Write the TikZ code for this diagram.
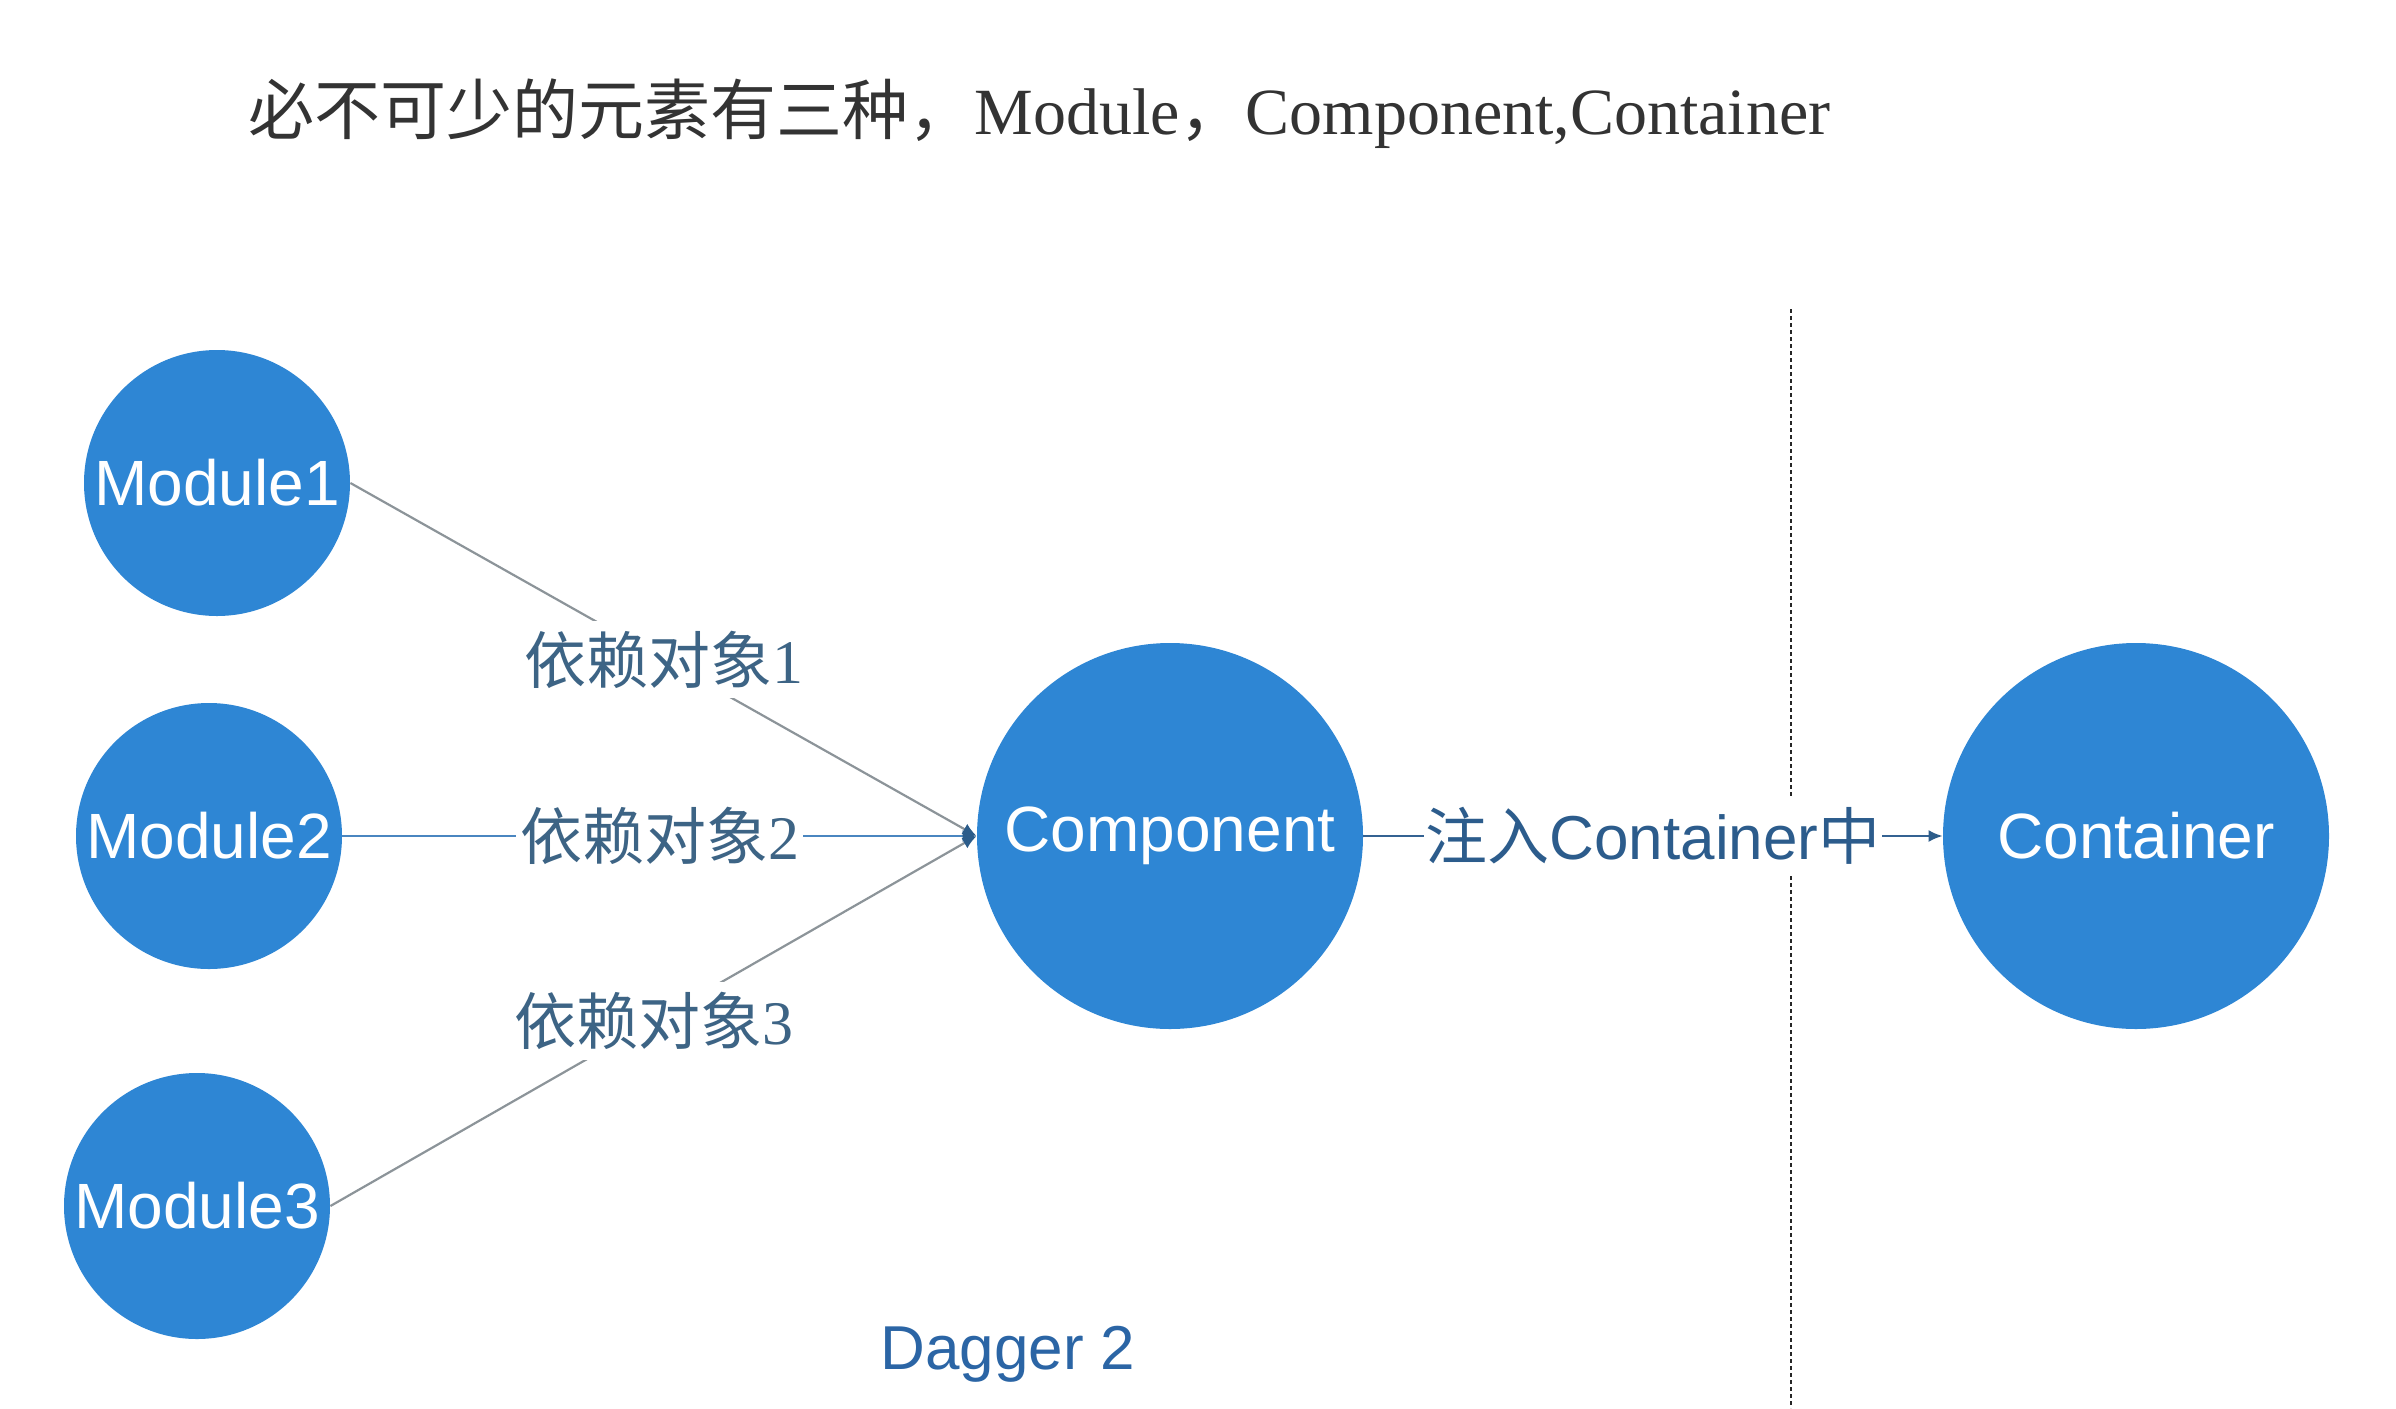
\documentclass[tikz,border=0pt]{standalone}
\usepackage{fontspec}
\setmainfont{Liberation Serif}
\setsansfont{Liberation Sans}
\newfontfamily\cjk{Noto Sans CJK SC}
\usetikzlibrary{arrows.meta}
\definecolor{circfill}{RGB}{46,134,212}
\definecolor{graylink}{RGB}{140,148,153}
\definecolor{bluelink}{RGB}{74,134,192}
\definecolor{darklink}{RGB}{52,98,146}
\definecolor{tipcol}{RGB}{44,92,138}
\definecolor{labcol}{RGB}{61,100,133}
\definecolor{injcol}{RGB}{44,92,140}
\definecolor{dagcol}{RGB}{43,101,165}
\definecolor{titlecol}{RGB}{51,51,51}
\tikzset{
  bubble/.style={circle, fill=circfill, draw=none, inner sep=0pt, text=white,
    font=\sffamily\fontsize{32pt}{36pt}\selectfont},
  small/.style={bubble, minimum size=133pt},
  big/.style={bubble, minimum size=193pt},
  linklab/.style={fill=white, inner xsep=2pt, inner ysep=5pt, text=labcol,
    font=\fontsize{31pt}{36pt}\selectfont},
  glink/.style={draw=graylink, line width=1.1pt, -{Latex[length=7pt,width=6pt,color=tipcol]}},
  blink/.style={draw=bluelink, line width=1.3pt, -{Latex[length=7pt,width=6pt,color=tipcol]}},
  divider/.style={draw=black!85, line width=1.3pt, dash pattern=on 2.2pt off 1.3pt}
}
\begin{document}
\begin{tikzpicture}[x=0.5pt, y=-0.5pt]
\useasboundingbox (0,0) rectangle (2396,1408);
% title
\node[anchor=base west, inner sep=0pt, text=titlecol] (title) at (248,134)
  {{\fontsize{33pt}{40pt}\cjk 必不可少的元素有三种，}{\fontsize{33pt}{38pt}\selectfont Module}{\fontsize{33pt}{40pt}\cjk ，}{\fontsize{33pt}{38pt}\selectfont Component,Container}};
% divider
\coordinate (dtop) at (1791,309);
\coordinate (dbot) at (1791,1408);
\draw[divider] (dtop) -- (dbot);
% nodes
\node[small] (m1) at (217,483) {Module1};
\node[small] (m2) at (209,836) {Module2};
\node[small] (m3) at (197,1206) {Module3};
\node[big] (comp) at (1170,836) {Component};
\node[big] (cont) at (2136,836) {Container};
% links
\draw[glink] (m1.east) -- node[linklab] (l1) {{\cjk 依赖对象}1} (comp.west);
\draw[blink] (m2.east) -- node[linklab] (l2) {{\cjk 依赖对象}2} (comp.west);
\draw[glink] (m3.east) -- node[linklab] (l3) {{\cjk 依赖对象}3} (comp.west);
\draw[draw=darklink, line width=1.1pt, -{Latex[length=7pt,width=6pt,color=tipcol]}] (comp.east) --
  node[linklab, text=injcol, inner xsep=1pt] (inj) {{\cjk 注入}{\sffamily Container}{\cjk 中}} (cont.west);
% caption
\node[text=dagcol, font=\sffamily\fontsize{31pt}{36pt}\selectfont] (dag) at (1008,1354) {Dagger 2};
\end{tikzpicture}
\end{document}
